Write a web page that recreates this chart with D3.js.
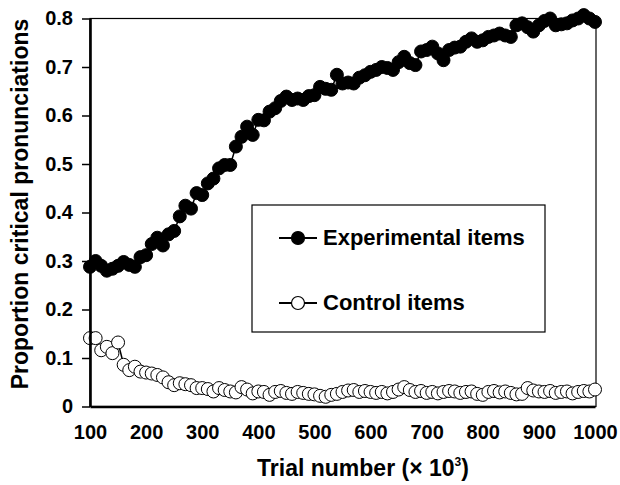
<!DOCTYPE html>
<html>
<head>
<meta charset="utf-8">
<script src="https://cdn.jsdelivr.net/npm/d3@7"></script>
<style>
  body { margin: 0; background: #fff; }
  svg text { font-family: 'Liberation Sans', Arial, sans-serif; font-weight: bold; fill: #000; }
</style>
</head>
<body>
<div id="chart"></div>
<script>
// trial number (x 10^3), one point every 10
const trials = d3.range(100, 1001, 10)

const experimental = [
  0.288, 0.300, 0.290, 0.280, 0.284, 0.290, 0.298, 0.292, 0.288, 0.308,
  0.312, 0.335, 0.348, 0.332, 0.355, 0.362, 0.392, 0.414, 0.408, 0.440,
  0.436, 0.460, 0.470, 0.491, 0.498, 0.498, 0.536, 0.556, 0.577, 0.560,
  0.591, 0.590, 0.608, 0.615, 0.630, 0.639, 0.632, 0.635, 0.632, 0.640,
  0.642, 0.659, 0.655, 0.653, 0.684, 0.666, 0.668, 0.666, 0.678, 0.683,
  0.690, 0.694, 0.700, 0.698, 0.694, 0.710, 0.721, 0.708, 0.704, 0.732,
  0.735, 0.742, 0.728, 0.714, 0.735, 0.740, 0.742, 0.752, 0.759, 0.752,
  0.755, 0.762, 0.765, 0.769, 0.765, 0.762, 0.786, 0.790, 0.782, 0.773,
  0.786, 0.795, 0.800, 0.786, 0.788, 0.790, 0.796, 0.800, 0.807, 0.800,
  0.793
]

const control = [
  0.141, 0.141, 0.116, 0.123, 0.110, 0.132, 0.086, 0.075, 0.082, 0.072,
  0.070, 0.068, 0.065, 0.060, 0.050, 0.044, 0.048, 0.046, 0.044, 0.038,
  0.038, 0.036, 0.031, 0.038, 0.034, 0.031, 0.029, 0.040, 0.035, 0.027,
  0.031, 0.030, 0.024, 0.030, 0.032, 0.028, 0.026, 0.030, 0.028, 0.026,
  0.025, 0.022, 0.020, 0.024, 0.026, 0.030, 0.033, 0.034, 0.030, 0.032,
  0.030, 0.028, 0.030, 0.027, 0.030, 0.035, 0.040, 0.034, 0.030, 0.032,
  0.028, 0.030, 0.027, 0.030, 0.032, 0.031, 0.028, 0.030, 0.031, 0.026,
  0.024, 0.030, 0.032, 0.029, 0.031, 0.028, 0.025, 0.026, 0.038, 0.033,
  0.031, 0.030, 0.032, 0.028, 0.030, 0.031, 0.027, 0.030, 0.032, 0.031,
  0.035
]

const xTicks = [100, 200, 300, 400, 500, 600, 700, 800, 900, 1000]
const yTicks = [0, 0.1, 0.2, 0.3, 0.4, 0.5, 0.6, 0.7, 0.8]
const seriesNames = ['Experimental items', 'Control items']

const dimensions = {
  width: 620,
  height: 485,
  margin: { top: 18.5, right: 24, bottom: 78.5, left: 90 }
}
dimensions.ctrWidth = dimensions.width - dimensions.margin.left - dimensions.margin.right
dimensions.ctrHeight = dimensions.height - dimensions.margin.top - dimensions.margin.bottom

const svg = d3.select('#chart')
  .append('svg')
  .attr('width', dimensions.width)
  .attr('height', dimensions.height)

const ctr = svg.append('g')
  .attr('transform', `translate(${dimensions.margin.left}, ${dimensions.margin.top})`)

const xScale = d3.scaleLinear()
  .domain([100, 1000])
  .range([0, dimensions.ctrWidth - 1])

const yScale = d3.scaleLinear()
  .domain([0, 0.8])
  .range([dimensions.ctrHeight, 0])

// plot frame (thin top / right)
ctr.append('rect')
  .attr('x', 0)
  .attr('y', 0)
  .attr('width', dimensions.ctrWidth)
  .attr('height', dimensions.ctrHeight)
  .attr('fill', 'none')
  .attr('stroke', '#000')
  .attr('stroke-width', 1.2)

// series
const series = [
  { name: seriesNames[0], values: experimental, fill: '#000' },
  { name: seriesNames[1], values: control, fill: '#fff' }
]

const line = d3.line()
  .x((d, i) => xScale(trials[i]))
  .y(d => yScale(d))

series.forEach(s => {
  ctr.append('path')
    .datum(s.values)
    .attr('d', line)
    .attr('fill', 'none')
    .attr('stroke', '#000')
    .attr('stroke-width', 1.5)

  ctr.append('g')
    .selectAll('circle')
    .data(s.values)
    .join('circle')
    .attr('cx', (d, i) => xScale(trials[i]))
    .attr('cy', d => yScale(d))
    .attr('r', 6.5)
    .attr('fill', s.fill)
    .attr('stroke', '#000')
    .attr('stroke-width', 1)
})

// axes
const yAxis = d3.axisLeft(yScale)
  .tickValues(yTicks)
  .tickFormat(d => d === 0 ? '0' : d.toFixed(1))
  .tickSize(8)
  .tickSizeOuter(0)
  .tickPadding(9)

const yAxisGroup = ctr.append('g')
  .call(yAxis)
yAxisGroup.select('.domain').attr('stroke-width', 2.6)
yAxisGroup.selectAll('.tick line').attr('stroke-width', 1.5)
yAxisGroup.selectAll('text')
  .attr('font-size', 20)
  .attr('font-family', null)

const xAxis = d3.axisBottom(xScale)
  .tickValues(xTicks)
  .tickFormat(d3.format('d'))
  .tickSize(0)
  .tickPadding(18)

const xAxisGroup = ctr.append('g')
  .attr('transform', `translate(0, ${dimensions.ctrHeight})`)
  .call(xAxis)
xAxisGroup.select('.domain').attr('stroke-width', 2.6)
xAxisGroup.selectAll('text')
  .attr('font-size', 20)
  .attr('font-family', null)

// axis titles
const xTitle = svg.append('text')
  .attr('x', 363)
  .attr('y', 476)
  .attr('text-anchor', 'middle')
  .attr('font-size', 23)
xTitle.append('tspan').text('Trial number (× 10')
xTitle.append('tspan').text('3').attr('font-size', 12).attr('dy', -10)
xTitle.append('tspan').text(')').attr('dy', 10)

svg.append('text')
  .attr('transform', 'translate(28, 204) rotate(-90)')
  .attr('text-anchor', 'middle')
  .attr('font-size', 23)
  .text('Proportion critical pronunciations')

// legend
const legend = svg.append('g')
  .attr('transform', 'translate(252, 205)')

legend.append('rect')
  .attr('width', 293)
  .attr('height', 127)
  .attr('fill', '#fff')
  .attr('stroke', '#000')
  .attr('stroke-width', 1.2)

series.forEach((s, i) => {
  const row = legend.append('g')
    .attr('transform', `translate(0, ${33 + i * 65})`)
  row.append('line')
    .attr('x1', 27)
    .attr('x2', 65)
    .attr('stroke', '#000')
    .attr('stroke-width', 1.8)
  row.append('circle')
    .attr('cx', 46)
    .attr('r', 6.5)
    .attr('fill', s.fill)
    .attr('stroke', '#000')
    .attr('stroke-width', 1.2)
  row.append('text')
    .attr('x', 71)
    .attr('y', 7)
    .attr('font-size', 22)
    .text(s.name)
})
</script>
</body>
</html>
